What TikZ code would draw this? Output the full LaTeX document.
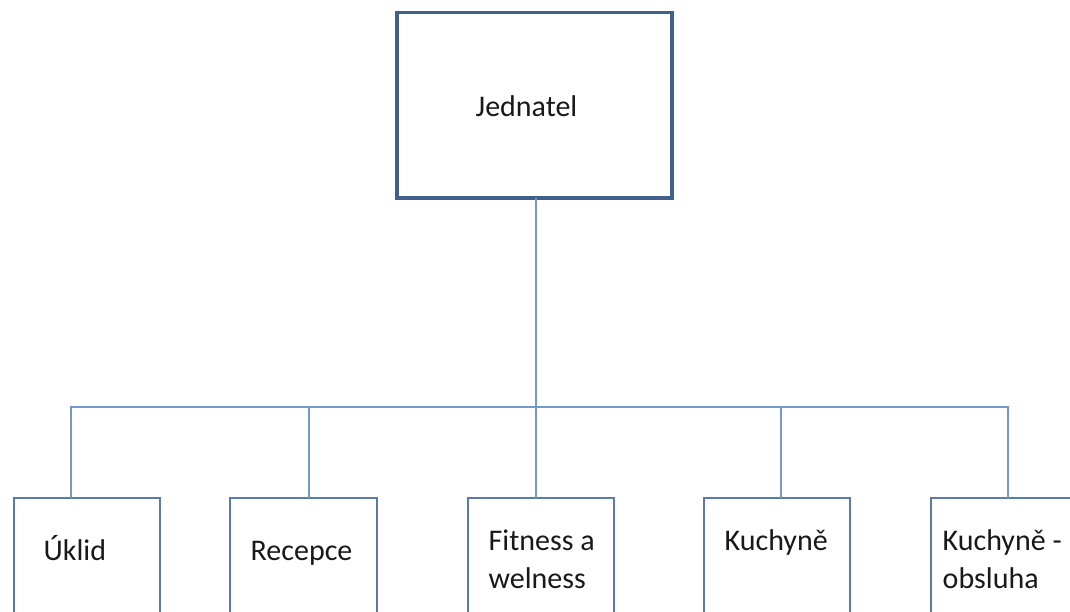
\documentclass[tikz,border=0pt]{standalone}
\usepackage{fontspec}
\setmainfont{Carlito}
\definecolor{topc}{HTML}{41618C}
\definecolor{boxc}{HTML}{5A7BAA}
\definecolor{linec}{HTML}{7398CB}
\begin{document}
\begin{tikzpicture}[x=1pt,y=-1pt,
  topbox/.style={draw=topc, line width=3.5pt, fill=white, inner sep=0pt, outer sep=0pt,
    minimum width=275pt, minimum height=185.5pt},
  subbox/.style={draw=boxc, line width=2pt, fill=white, inner sep=0pt, outer sep=0pt,
    anchor=north west, minimum height=200pt},
  conn/.style={draw=linec, line width=2pt},
  lbl/.style={anchor=base west, inner sep=0pt, align=left,
    font=\fontsize{30}{37.5}\selectfont, text=black!90}
]
\useasboundingbox (0,0) rectangle (1070,612);
\clip (0,0) rectangle (1070,612);
\fill[white] (0,0) rectangle (1070,612);

% coordinates of the bus
\coordinate (cu) at (70.7,407);
\coordinate (cr) at (309,407);
\coordinate (ct) at (536,407);
\coordinate (ck) at (781,407);
\coordinate (co) at (1008,407);

\node[topbox] (top) at (534.5,105.25) {};
\node[subbox, minimum width=146pt] (u) at (13.5,498) {};
\node[subbox, minimum width=147pt] (r) at (230,498) {};
\node[subbox, minimum width=146.5pt] (f) at (467.5,498) {};
\node[subbox, minimum width=146pt] (k) at (703.5,498) {};
\node[subbox, minimum width=148pt] (o) at (930.5,498) {};

\draw[conn] (ct |- top.south) -- (ct);
\draw[conn, line cap=rect] (cu) -- (co);
\draw[conn] (cu) -- (cu |- u.north);
\draw[conn] (cr) -- (cr |- r.north);
\draw[conn] (ct) -- (ct |- f.north);
\draw[conn] (ck) -- (ck |- k.north);
\draw[conn] (co) -- (co |- o.north);

\node[lbl] (tj) at (475.5,117) {Jednatel};
\node[lbl] (tu) at (43.5,560) {Úklid};
\node[lbl] (tr) at (250.5,560) {Recepce};
\node[lbl] (tf) at (488.5,588) {Fitness a\\welness};
\node[lbl] (tk) at (724.5,550) {Kuchyně};
\node[lbl] (to) at (942.5,588) {Kuchyně -\\obsluha};
\end{tikzpicture}
\end{document}
